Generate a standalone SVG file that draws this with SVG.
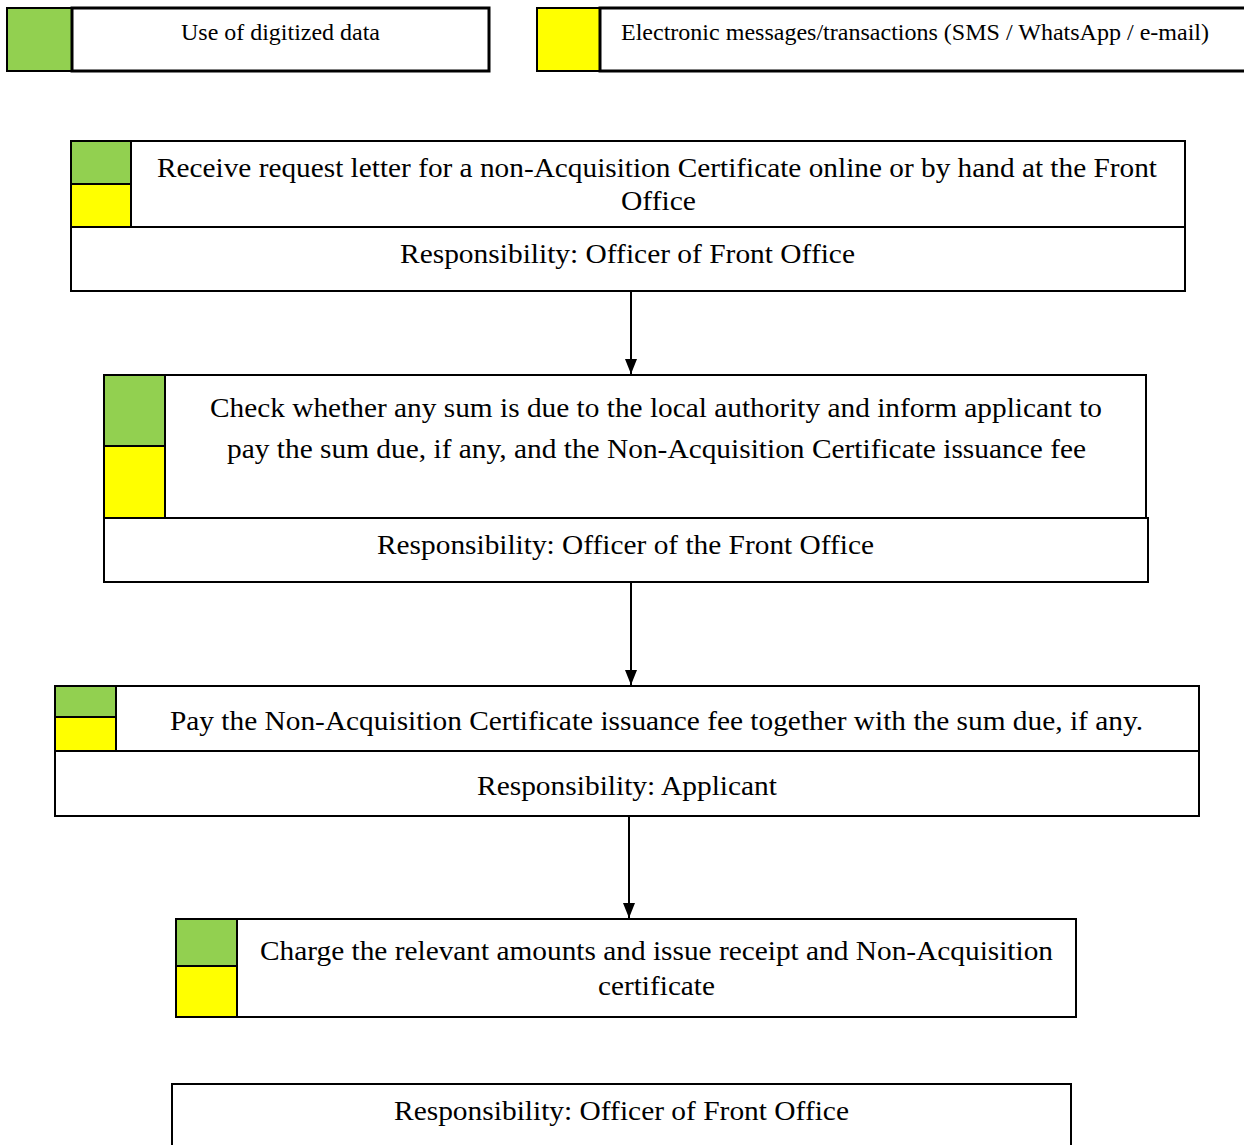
<svg xmlns="http://www.w3.org/2000/svg" width="1244" height="1145" viewBox="0 0 1244 1145">
  <defs>
    <style>
      .box { fill: #ffffff; stroke: #000000; stroke-width: 2; }
      .legend { fill: #ffffff; stroke: #000000; stroke-width: 3; }
      .green { fill: #92d050; stroke: #000000; stroke-width: 2; }
      .yellow { fill: #ffff00; stroke: #000000; stroke-width: 2; }
      .divider { stroke: #000000; stroke-width: 2; }
      .t { font-family: "Liberation Serif", "Times New Roman", serif; font-size: 27px; fill: #000000; text-anchor: middle; }
      .lt { font-family: "Liberation Serif", "Times New Roman", serif; font-size: 23px; fill: #000000; }
      .conn { stroke: #000000; stroke-width: 2; fill: none; }
    </style>
    <marker id="arrow" markerWidth="15" markerHeight="12" refX="15" refY="6" orient="auto" markerUnits="userSpaceOnUse">
      <path d="M0,0 L15,6 L0,12 Z" fill="#000000"/>
    </marker>
  </defs>

  <rect width="1244" height="1145" fill="#ffffff"/>

  <!-- Legend -->
  <g id="legend-digitized">
    <rect class="green" x="7" y="8" width="65" height="63"/>
    <rect class="legend" x="72" y="8" width="417" height="63"/>
    <text class="lt" x="280.5" y="40" text-anchor="middle" textLength="199" lengthAdjust="spacingAndGlyphs">Use of digitized data</text>
  </g>
  <g id="legend-electronic">
    <rect class="yellow" x="537" y="8" width="63" height="63"/>
    <rect class="legend" x="600" y="8" width="660" height="63"/>
    <text class="lt" x="621" y="40" textLength="588" lengthAdjust="spacingAndGlyphs">Electronic messages/transactions (SMS / WhatsApp / e-mail)</text>
  </g>

  <!-- Step 1 -->
  <g id="step1">
    <rect class="box" x="71" y="141" width="1114" height="150"/>
    <line class="divider" x1="71" y1="227" x2="1185" y2="227"/>
    <rect class="green" x="71" y="141" width="60" height="43"/>
    <rect class="yellow" x="71" y="184" width="60" height="43"/>
    <text class="t" x="657" y="177" textLength="1000" lengthAdjust="spacingAndGlyphs">Receive request letter for a non-Acquisition Certificate online or by hand at the Front</text>
    <text class="t" x="658.5" y="210" textLength="75" lengthAdjust="spacingAndGlyphs">Office</text>
    <text class="t" x="627.5" y="263" textLength="455" lengthAdjust="spacingAndGlyphs">Responsibility: Officer of Front Office</text>
  </g>

  <!-- Step 2 -->
  <g id="step2">
    <rect class="box" x="104" y="375" width="1042" height="143"/>
    <rect class="box" x="104" y="518" width="1044" height="64"/>
    <rect class="green" x="104" y="375" width="61" height="71"/>
    <rect class="yellow" x="104" y="446" width="61" height="72"/>
    <text class="t" x="656" y="417" textLength="892" lengthAdjust="spacingAndGlyphs">Check whether any sum is due to the local authority and inform applicant to</text>
    <text class="t" x="656.5" y="458" textLength="859" lengthAdjust="spacingAndGlyphs">pay the sum due, if any, and the Non-Acquisition Certificate issuance fee</text>
    <text class="t" x="625.5" y="554" textLength="497" lengthAdjust="spacingAndGlyphs">Responsibility: Officer of the Front Office</text>
  </g>

  <!-- Step 3 -->
  <g id="step3">
    <rect class="box" x="55" y="686" width="1144" height="130"/>
    <line class="divider" x1="55" y1="751" x2="1199" y2="751"/>
    <rect class="green" x="55" y="686" width="61" height="31"/>
    <rect class="yellow" x="55" y="717" width="61" height="34"/>
    <text class="t" x="656.5" y="730" textLength="973" lengthAdjust="spacingAndGlyphs">Pay the Non-Acquisition Certificate issuance fee together with the sum due, if any.</text>
    <text class="t" x="627" y="795" textLength="300" lengthAdjust="spacingAndGlyphs">Responsibility: Applicant</text>
  </g>

  <!-- Step 4 -->
  <g id="step4">
    <rect class="box" x="176" y="919" width="900" height="98"/>
    <rect class="green" x="176" y="919" width="61" height="47"/>
    <rect class="yellow" x="176" y="966" width="61" height="51"/>
    <text class="t" x="656.5" y="960" textLength="793" lengthAdjust="spacingAndGlyphs">Charge the relevant amounts and issue receipt and Non-Acquisition</text>
    <text class="t" x="656.5" y="995" textLength="117" lengthAdjust="spacingAndGlyphs">certificate</text>
  </g>

  <!-- Step 4 responsibility -->
  <g id="step4-responsibility">
    <rect class="box" x="172" y="1084" width="899" height="80"/>
    <text class="t" x="621.5" y="1120" textLength="455" lengthAdjust="spacingAndGlyphs">Responsibility: Officer of Front Office</text>
  </g>

  <!-- Connectors -->
  <g id="connectors">
    <line class="conn" x1="631" y1="291" x2="631" y2="374" marker-end="url(#arrow)"/>
    <line class="conn" x1="631" y1="582" x2="631" y2="685" marker-end="url(#arrow)"/>
    <line class="conn" x1="629" y1="816" x2="629" y2="918" marker-end="url(#arrow)"/>
  </g>
</svg>
